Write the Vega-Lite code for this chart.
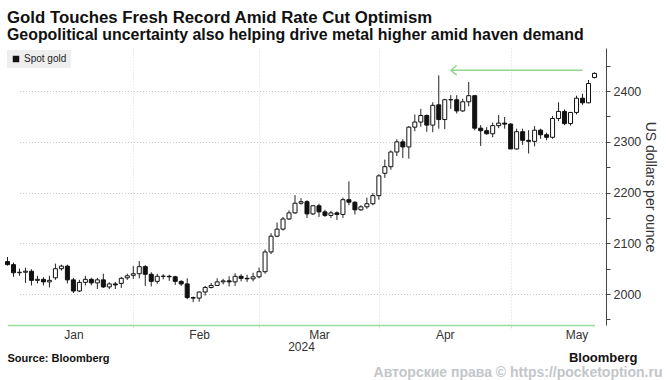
{
  "$schema": "https://vega.github.io/schema/vega-lite/v6.json",
  "width": 599,
  "height": 277,
  "autosize": {"type": "none"},
  "padding": {"left": 7, "top": 48, "right": 60, "bottom": 55},
  "background": "#ffffff",
  "config": {"view": {"stroke": null}, "font": "Liberation Sans"},
  "title": {
    "text": "Gold Touches Fresh Record Amid Rate Cut Optimism",
    "subtitle": "Geopolitical uncertainty also helping drive metal higher amid haven demand",
    "anchor": "start",
    "frame": "group",
    "font": "Liberation Sans",
    "fontSize": 16.8,
    "fontWeight": "bold",
    "color": "#111111",
    "subtitleFont": "Liberation Sans",
    "subtitleFontSize": 15.9,
    "subtitleFontWeight": "bold",
    "subtitleColor": "#111111",
    "subtitlePadding": 0,
    "offset": 5
  },
  "datasets": {
    "gold": [
      {"date": "2024-01-02", "open": 2064, "high": 2073, "low": 2056, "close": 2058},
      {"date": "2024-01-03", "open": 2058, "high": 2062, "low": 2034, "close": 2042},
      {"date": "2024-01-04", "open": 2042, "high": 2050, "low": 2036, "close": 2043},
      {"date": "2024-01-05", "open": 2043, "high": 2052, "low": 2022, "close": 2045},
      {"date": "2024-01-08", "open": 2045, "high": 2049, "low": 2017, "close": 2027},
      {"date": "2024-01-09", "open": 2027, "high": 2036, "low": 2021, "close": 2029},
      {"date": "2024-01-10", "open": 2029, "high": 2033, "low": 2017, "close": 2024},
      {"date": "2024-01-11", "open": 2024, "high": 2036, "low": 2013, "close": 2027},
      {"date": "2024-01-12", "open": 2032, "high": 2060, "low": 2028, "close": 2050},
      {"date": "2024-01-15", "open": 2050, "high": 2058, "low": 2046, "close": 2055},
      {"date": "2024-01-16", "open": 2055, "high": 2058, "low": 2021, "close": 2028},
      {"date": "2024-01-17", "open": 2028, "high": 2032, "low": 2002, "close": 2006},
      {"date": "2024-01-18", "open": 2006, "high": 2028, "low": 2004, "close": 2023},
      {"date": "2024-01-19", "open": 2023, "high": 2036, "low": 2017, "close": 2029},
      {"date": "2024-01-22", "open": 2029, "high": 2032, "low": 2017, "close": 2022},
      {"date": "2024-01-23", "open": 2022, "high": 2032, "low": 2010, "close": 2028},
      {"date": "2024-01-24", "open": 2028, "high": 2040, "low": 2012, "close": 2014},
      {"date": "2024-01-25", "open": 2014, "high": 2023, "low": 2010, "close": 2020},
      {"date": "2024-01-26", "open": 2020, "high": 2024, "low": 2010, "close": 2018},
      {"date": "2024-01-29", "open": 2021, "high": 2034, "low": 2012, "close": 2031},
      {"date": "2024-01-30", "open": 2032, "high": 2040, "low": 2028, "close": 2036},
      {"date": "2024-01-31", "open": 2037, "high": 2055, "low": 2030, "close": 2040},
      {"date": "2024-02-01", "open": 2040, "high": 2065, "low": 2031, "close": 2054},
      {"date": "2024-02-02", "open": 2054, "high": 2057, "low": 2016, "close": 2039},
      {"date": "2024-02-05", "open": 2039, "high": 2043, "low": 2015, "close": 2025},
      {"date": "2024-02-06", "open": 2025, "high": 2040, "low": 2020, "close": 2035},
      {"date": "2024-02-07", "open": 2035, "high": 2039, "low": 2029, "close": 2035},
      {"date": "2024-02-08", "open": 2035, "high": 2038, "low": 2026, "close": 2034},
      {"date": "2024-02-09", "open": 2034, "high": 2036, "low": 2018, "close": 2025},
      {"date": "2024-02-12", "open": 2025, "high": 2027, "low": 2016, "close": 2020},
      {"date": "2024-02-13", "open": 2020, "high": 2031, "low": 1990, "close": 1993},
      {"date": "2024-02-14", "open": 1993, "high": 1995, "low": 1984, "close": 1992},
      {"date": "2024-02-15", "open": 1992, "high": 2005, "low": 1985, "close": 2004},
      {"date": "2024-02-16", "open": 2004, "high": 2016, "low": 1997, "close": 2013},
      {"date": "2024-02-19", "open": 2013, "high": 2022, "low": 2011, "close": 2017},
      {"date": "2024-02-20", "open": 2017, "high": 2031, "low": 2016, "close": 2024},
      {"date": "2024-02-21", "open": 2024, "high": 2030, "low": 2019, "close": 2026},
      {"date": "2024-02-22", "open": 2026, "high": 2035, "low": 2015, "close": 2024},
      {"date": "2024-02-23", "open": 2024, "high": 2041, "low": 2016, "close": 2035},
      {"date": "2024-02-26", "open": 2035, "high": 2039, "low": 2025, "close": 2031},
      {"date": "2024-02-27", "open": 2031, "high": 2038, "low": 2024, "close": 2030},
      {"date": "2024-02-28", "open": 2030, "high": 2042, "low": 2025, "close": 2034},
      {"date": "2024-02-29", "open": 2034, "high": 2052, "low": 2031, "close": 2044},
      {"date": "2024-03-01", "open": 2044, "high": 2088, "low": 2040, "close": 2083},
      {"date": "2024-03-04", "open": 2083, "high": 2120, "low": 2079, "close": 2114},
      {"date": "2024-03-05", "open": 2114, "high": 2141, "low": 2112, "close": 2128},
      {"date": "2024-03-06", "open": 2128, "high": 2152, "low": 2125, "close": 2148},
      {"date": "2024-03-07", "open": 2148, "high": 2165, "low": 2146, "close": 2160},
      {"date": "2024-03-08", "open": 2160, "high": 2195, "low": 2158, "close": 2179},
      {"date": "2024-03-11", "open": 2179, "high": 2189, "low": 2176, "close": 2182},
      {"date": "2024-03-12", "open": 2182, "high": 2185, "low": 2150, "close": 2158},
      {"date": "2024-03-13", "open": 2158, "high": 2175, "low": 2156, "close": 2174},
      {"date": "2024-03-14", "open": 2174, "high": 2178, "low": 2152, "close": 2162},
      {"date": "2024-03-15", "open": 2162, "high": 2166, "low": 2152, "close": 2155},
      {"date": "2024-03-18", "open": 2155, "high": 2164, "low": 2150, "close": 2160},
      {"date": "2024-03-19", "open": 2160, "high": 2163, "low": 2146, "close": 2157},
      {"date": "2024-03-20", "open": 2157, "high": 2190, "low": 2150, "close": 2186},
      {"date": "2024-03-21", "open": 2186, "high": 2222, "low": 2175, "close": 2181},
      {"date": "2024-03-22", "open": 2181, "high": 2183, "low": 2157, "close": 2166},
      {"date": "2024-03-25", "open": 2166, "high": 2175, "low": 2164, "close": 2172},
      {"date": "2024-03-26", "open": 2172, "high": 2190, "low": 2168, "close": 2178},
      {"date": "2024-03-27", "open": 2178, "high": 2199, "low": 2175, "close": 2194},
      {"date": "2024-03-28", "open": 2194, "high": 2236, "low": 2186, "close": 2233},
      {"date": "2024-04-01", "open": 2238, "high": 2265, "low": 2229, "close": 2251},
      {"date": "2024-04-02", "open": 2251, "high": 2283, "low": 2245, "close": 2280},
      {"date": "2024-04-03", "open": 2280, "high": 2305, "low": 2272, "close": 2300},
      {"date": "2024-04-04", "open": 2300, "high": 2305, "low": 2268, "close": 2290},
      {"date": "2024-04-05", "open": 2290, "high": 2331, "low": 2267, "close": 2329},
      {"date": "2024-04-08", "open": 2329, "high": 2354, "low": 2321, "close": 2339},
      {"date": "2024-04-09", "open": 2339, "high": 2365, "low": 2330, "close": 2352},
      {"date": "2024-04-10", "open": 2352, "high": 2354, "low": 2320, "close": 2333},
      {"date": "2024-04-11", "open": 2333, "high": 2378, "low": 2319, "close": 2372},
      {"date": "2024-04-12", "open": 2373, "high": 2431, "low": 2326, "close": 2344},
      {"date": "2024-04-15", "open": 2344, "high": 2385, "low": 2325, "close": 2383},
      {"date": "2024-04-16", "open": 2383, "high": 2392, "low": 2365, "close": 2383},
      {"date": "2024-04-17", "open": 2383, "high": 2392, "low": 2356, "close": 2361},
      {"date": "2024-04-18", "open": 2361, "high": 2385, "low": 2359, "close": 2379},
      {"date": "2024-04-19", "open": 2379, "high": 2418, "low": 2370, "close": 2391},
      {"date": "2024-04-22", "open": 2391, "high": 2392, "low": 2323, "close": 2327},
      {"date": "2024-04-23", "open": 2327, "high": 2333, "low": 2292, "close": 2322},
      {"date": "2024-04-24", "open": 2322, "high": 2329, "low": 2314, "close": 2316},
      {"date": "2024-04-25", "open": 2316, "high": 2338, "low": 2309, "close": 2332},
      {"date": "2024-04-26", "open": 2332, "high": 2353, "low": 2327, "close": 2337},
      {"date": "2024-04-29", "open": 2337, "high": 2349, "low": 2326, "close": 2335},
      {"date": "2024-04-30", "open": 2335, "high": 2337, "low": 2286, "close": 2286},
      {"date": "2024-05-01", "open": 2286, "high": 2326, "low": 2285, "close": 2320},
      {"date": "2024-05-02", "open": 2320, "high": 2326, "low": 2294, "close": 2303},
      {"date": "2024-05-03", "open": 2303, "high": 2323, "low": 2277, "close": 2301},
      {"date": "2024-05-06", "open": 2301, "high": 2331, "low": 2291, "close": 2323},
      {"date": "2024-05-07", "open": 2323, "high": 2326, "low": 2306, "close": 2314},
      {"date": "2024-05-08", "open": 2314, "high": 2318, "low": 2303, "close": 2309},
      {"date": "2024-05-09", "open": 2309, "high": 2351, "low": 2306, "close": 2346},
      {"date": "2024-05-10", "open": 2346, "high": 2378, "low": 2341, "close": 2360},
      {"date": "2024-05-13", "open": 2360, "high": 2364, "low": 2333, "close": 2336},
      {"date": "2024-05-14", "open": 2336, "high": 2359, "low": 2332, "close": 2358},
      {"date": "2024-05-15", "open": 2358, "high": 2391, "low": 2354, "close": 2386},
      {"date": "2024-05-16", "open": 2386, "high": 2395, "low": 2373, "close": 2377},
      {"date": "2024-05-17", "open": 2377, "high": 2422, "low": 2376, "close": 2415},
      {"date": "2024-05-20", "open": 2427, "high": 2437, "low": 2425, "close": 2435}
    ],
    "arrow": [{"from": "2024-04-16", "to": "2024-05-16", "level": 2441}]
  },
  "layer": [
    {
      "data": {"name": "gold"},
      "mark": {"type": "rule", "color": "#222222", "strokeWidth": 1},
      "encoding": {
        "x": {
          "field": "date", "type": "ordinal",
          "scale": {"type": "point", "padding": 0, "range": [0.5, 587.5]},
          "axis": {
            "orient": "bottom",
            "values": ["2024-01-31", "2024-02-29", "2024-03-28", "2024-04-30"],
            "labels": false, "ticks": true, "tickSize": 3, "tickColor": "#d6e2d6",
            "grid": true, "gridColor": "#d2dfd2", "gridDash": [1, 2], "gridWidth": 1,
            "domain": true, "domainColor": "#9edc9e", "domainWidth": 1.5,
            "title": "Source: Bloomberg", "titleX": 0, "titleY": 36, "titleAlign": "left",
            "titleBaseline": "alphabetic", "titleFontSize": 11, "titleFontWeight": "bold", "titleColor": "#111111"
          }
        },
        "y": {
          "field": "low", "type": "quantitative",
          "scale": {"domain": [1939, 2485], "nice": false, "zero": false},
          "axis": {
            "orient": "right", "values": [1950, 2000, 2050, 2100, 2150, 2200, 2250, 2300, 2350, 2400, 2450],
            "format": "d", "labelExpr": "datum.value % 100 === 0 ? datum.label : ''",
            "labelFontSize": 12.5, "labelColor": "#333333", "labelPadding": 3,
            "tickSize": 4, "tickColor": "#444444", "domainColor": "#444444",
            "grid": true, "gridColor": "#c8c8c8", "gridDash": [1, 2],
            "gridOpacity": {"condition": {"test": "datum.value % 100 === 0", "value": 1}, "value": 0},
            "title": "US dollars per ounce", "titleFontSize": 14, "titleFontWeight": "normal", "titleColor": "#333333", "titlePadding": 2
          }
        },
        "y2": {"field": "high"}
      }
    },
    {
      "data": {"name": "gold"},
      "transform": [{"calculate": "datum.close < datum.open ? 'down' : 'up'", "as": "dir"}],
      "mark": {"type": "bar", "width": 4, "stroke": "#111111", "strokeWidth": 1},
      "encoding": {
        "x": {
          "field": "date", "type": "ordinal",
          "scale": {"type": "point", "padding": 0, "range": [0.5, 587.5]},
          "axis": {
            "orient": "bottom",
            "values": ["2024-01-17", "2024-02-15", "2024-03-14", "2024-04-15", "2024-05-15"],
            "labelExpr": "utcFormat(toDate(datum.value), '%b')",
            "labelAngle": 0, "labelFontSize": 12, "labelColor": "#333333", "labelPadding": 4,
            "ticks": false, "domain": false, "grid": false,
            "title": "2024", "titleFontSize": 12, "titleFontWeight": "normal", "titleColor": "#333333", "titlePadding": 1
          }
        },
        "y": {
          "field": "open", "type": "quantitative",
          "scale": {"domain": [1939, 2485], "nice": false, "zero": false},
          "axis": {
            "orient": "right", "values": [1950, 2000, 2050, 2100, 2150, 2200, 2250, 2300, 2350, 2400, 2450],
            "format": "d", "labelExpr": "datum.value % 100 === 0 ? datum.label : ''",
            "labelFontSize": 12.5, "labelColor": "#333333", "labelPadding": 3,
            "tickSize": 4, "tickColor": "#444444", "domainColor": "#444444",
            "grid": true, "gridColor": "#c8c8c8", "gridDash": [1, 2],
            "gridOpacity": {"condition": {"test": "datum.value % 100 === 0", "value": 1}, "value": 0},
            "title": "US dollars per ounce", "titleFontSize": 14, "titleFontWeight": "normal", "titleColor": "#333333", "titlePadding": 2
          }
        },
        "y2": {"field": "close"},
        "fill": {
          "field": "dir", "type": "nominal",
          "scale": {"domain": ["down", "up"], "range": ["#111111", "#ffffff"]},
          "legend": {
            "values": ["down"], "labelExpr": "'Spot gold'", "title": null,
            "orient": "none", "legendX": 0, "legendY": 2,
            "fillColor": "#eeeeee", "padding": 4, "cornerRadius": 0,
            "symbolType": "square", "symbolSize": 42, "symbolStrokeWidth": 0,
            "labelFontSize": 10, "labelColor": "#222222", "labelOffset": 3
          }
        }
      }
    },
    {
      "data": {"name": "arrow"},
      "mark": {"type": "rule", "color": "#8fd88f", "strokeWidth": 1.5},
      "encoding": {
        "x": {
          "field": "from", "type": "ordinal",
          "scale": {"type": "point", "padding": 0, "range": [0.5, 587.5]},
          "axis": {
            "orient": "bottom", "labels": false, "ticks": false, "domain": false, "grid": false,
            "title": "Bloomberg", "titleX": 630, "titleY": 36, "titleAlign": "right",
            "titleBaseline": "alphabetic", "titleFontSize": 13, "titleFontWeight": "bold", "titleColor": "#111111"
          }
        },
        "x2": {"field": "to"},
        "y": {
          "field": "level", "type": "quantitative",
          "scale": {"domain": [1939, 2485], "nice": false, "zero": false},
          "axis": {
            "orient": "right", "values": [1950, 2000, 2050, 2100, 2150, 2200, 2250, 2300, 2350, 2400, 2450],
            "format": "d", "labelExpr": "datum.value % 100 === 0 ? datum.label : ''",
            "labelFontSize": 12.5, "labelColor": "#333333", "labelPadding": 3,
            "tickSize": 4, "tickColor": "#444444", "domainColor": "#444444",
            "grid": true, "gridColor": "#c8c8c8", "gridDash": [1, 2],
            "gridOpacity": {"condition": {"test": "datum.value % 100 === 0", "value": 1}, "value": 0},
            "title": "US dollars per ounce", "titleFontSize": 14, "titleFontWeight": "normal", "titleColor": "#333333", "titlePadding": 2
          }
        }
      }
    },
    {
      "data": {"name": "arrow"},
      "mark": {"type": "point", "shape": "M0,0L1,-0.8M0,0L1,0.8", "size": 144, "filled": false, "stroke": "#8fd88f", "strokeWidth": 1.5, "opacity": 1},
      "encoding": {
        "x": {
          "field": "from", "type": "ordinal",
          "scale": {"type": "point", "padding": 0, "range": [0.5, 587.5]},
          "axis": {
            "orient": "bottom", "labels": false, "ticks": false, "domain": false, "grid": false,
            "title": "Авторские права © https://pocketoption.ru", "titleX": 655, "titleY": 51, "titleAlign": "right",
            "titleBaseline": "alphabetic", "titleFontSize": 14, "titleFontWeight": "bold", "titleColor": "#c2c6ca"
          }
        },
        "y": {
          "field": "level", "type": "quantitative",
          "scale": {"domain": [1939, 2485], "nice": false, "zero": false},
          "axis": {
            "orient": "right", "values": [1950, 2000, 2050, 2100, 2150, 2200, 2250, 2300, 2350, 2400, 2450],
            "format": "d", "labelExpr": "datum.value % 100 === 0 ? datum.label : ''",
            "labelFontSize": 12.5, "labelColor": "#333333", "labelPadding": 3,
            "tickSize": 4, "tickColor": "#444444", "domainColor": "#444444",
            "grid": true, "gridColor": "#c8c8c8", "gridDash": [1, 2],
            "gridOpacity": {"condition": {"test": "datum.value % 100 === 0", "value": 1}, "value": 0},
            "title": "US dollars per ounce", "titleFontSize": 14, "titleFontWeight": "normal", "titleColor": "#333333", "titlePadding": 2
          }
        }
      }
    }
  ],
  "resolve": {"axis": {"x": "independent"}}
}
